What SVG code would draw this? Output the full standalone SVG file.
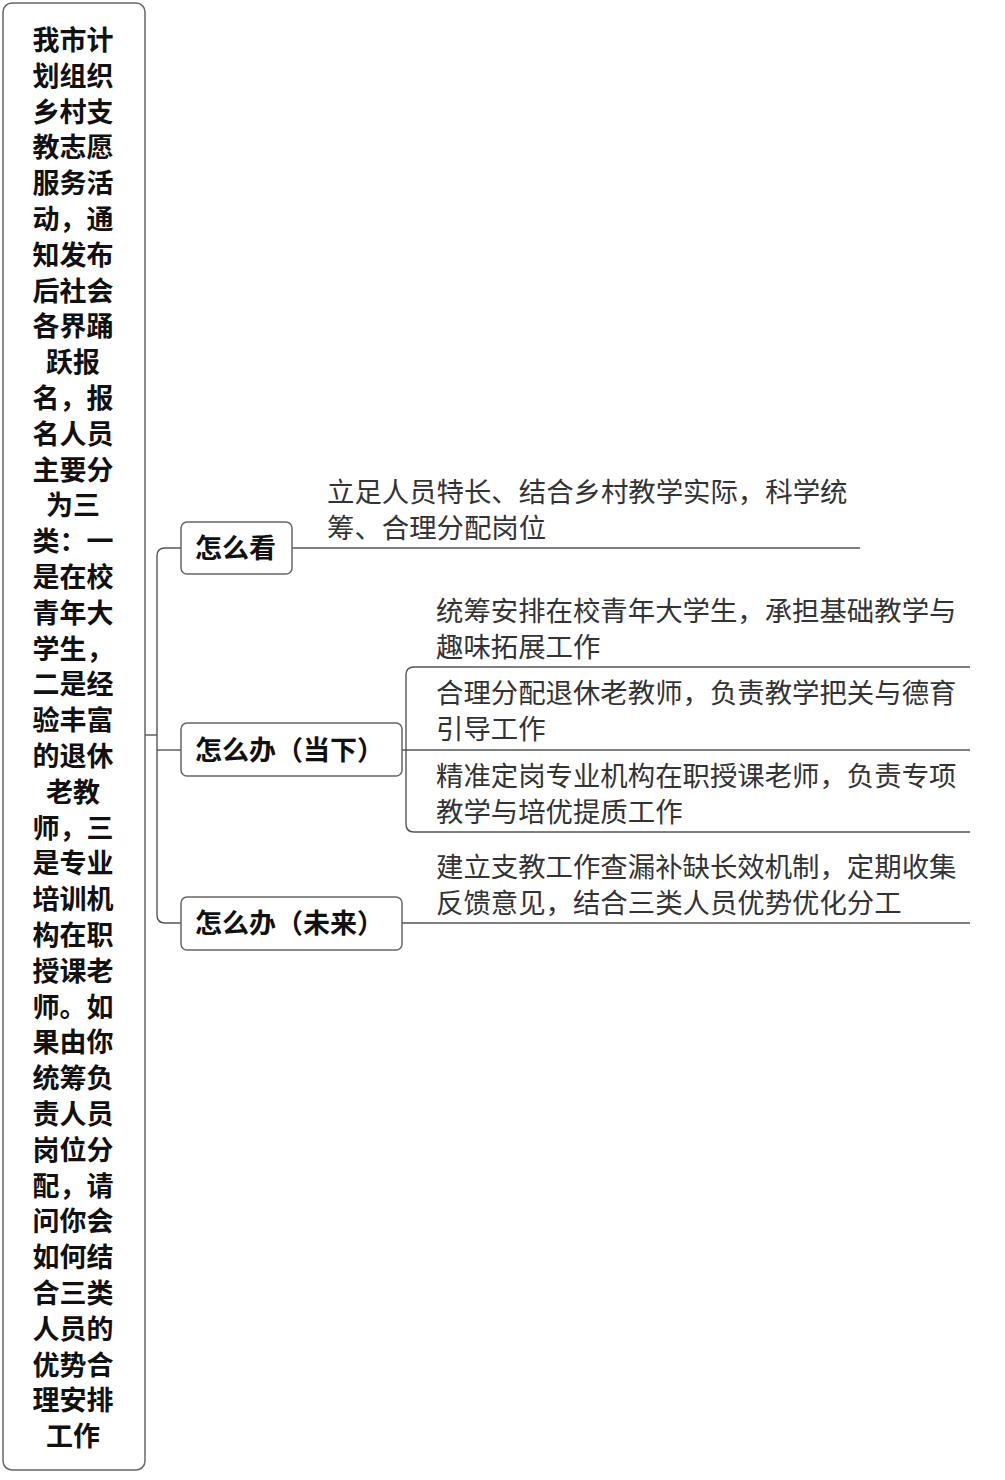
<svg xmlns="http://www.w3.org/2000/svg" width="1005" height="1480" viewBox="0 0 1005 1480">
<style>
.box{fill:#fff;stroke:#666;stroke-width:1.5}
.ln{fill:none;stroke:#555;stroke-width:1.4}
.rt{font-family:"Noto Sans CJK SC","Noto Sans",sans-serif;font-size:27px;font-weight:bold;fill:#111;text-anchor:middle}
.nt{font-family:"Noto Sans CJK SC","Noto Sans",sans-serif;font-size:27px;font-weight:bold;fill:#111}
.it{font-family:"Noto Sans CJK SC","Noto Sans",sans-serif;font-size:27.4px;fill:#333}
</style>
<rect width="1005" height="1480" fill="#fff"/>
<g id="connectors">
<path class="ln" d="M145 735 H157"/>
<path class="ln" d="M181 548 H165 Q157 548 157 556 V915 Q157 923 165 923 H181"/>
<path class="ln" d="M157 750 H181"/>
<path class="ln" d="M292 548 H860"/>
<path class="ln" d="M402 750 H970"/>
<path class="ln" d="M970 667 H414 Q406 667 406 675 V824 Q406 832 414 832 H970"/>
<path class="ln" d="M402 923 H970"/>
</g>
<g id="root">
<rect class="box" x="3" y="3" width="142" height="1467" rx="9"/>
<text class="rt" x="73" y="50">
<tspan x="73" dy="0">我市计</tspan><tspan x="73" dy="35.8">划组织</tspan><tspan x="73" dy="35.8">乡村支</tspan><tspan x="73" dy="35.8">教志愿</tspan><tspan x="73" dy="35.8">服务活</tspan><tspan x="73" dy="35.8">动，通</tspan><tspan x="73" dy="35.8">知发布</tspan><tspan x="73" dy="35.8">后社会</tspan><tspan x="73" dy="35.8">各界踊</tspan><tspan x="73" dy="35.8">跃报</tspan><tspan x="73" dy="35.8">名，报</tspan><tspan x="73" dy="35.8">名人员</tspan><tspan x="73" dy="35.8">主要分</tspan><tspan x="73" dy="35.8">为三</tspan><tspan x="73" dy="35.8">类：一</tspan><tspan x="73" dy="35.8">是在校</tspan><tspan x="73" dy="35.8">青年大</tspan><tspan x="73" dy="35.8">学生，</tspan><tspan x="73" dy="35.8">二是经</tspan><tspan x="73" dy="35.8">验丰富</tspan><tspan x="73" dy="35.8">的退休</tspan><tspan x="73" dy="35.8">老教</tspan><tspan x="73" dy="35.8">师，三</tspan><tspan x="73" dy="35.8">是专业</tspan><tspan x="73" dy="35.8">培训机</tspan><tspan x="73" dy="35.8">构在职</tspan><tspan x="73" dy="35.8">授课老</tspan><tspan x="73" dy="35.8">师。如</tspan><tspan x="73" dy="35.8">果由你</tspan><tspan x="73" dy="35.8">统筹负</tspan><tspan x="73" dy="35.8">责人员</tspan><tspan x="73" dy="35.8">岗位分</tspan><tspan x="73" dy="35.8">配，请</tspan><tspan x="73" dy="35.8">问你会</tspan><tspan x="73" dy="35.8">如何结</tspan><tspan x="73" dy="35.8">合三类</tspan><tspan x="73" dy="35.8">人员的</tspan><tspan x="73" dy="35.8">优势合</tspan><tspan x="73" dy="35.8">理安排</tspan><tspan x="73" dy="35.8">工作</tspan>
</text>
</g>
<g id="node-kan">
<rect class="box" x="181" y="522" width="111" height="52" rx="6"/>
<text class="nt" x="195" y="558">怎么看</text>
</g>
<g id="node-dangxia">
<rect class="box" x="181" y="723" width="221" height="53" rx="6"/>
<text class="nt" x="195" y="760">怎么办（当下）</text>
</g>
<g id="node-weilai">
<rect class="box" x="181" y="897" width="221" height="53" rx="6"/>
<text class="nt" x="195" y="933">怎么办（未来）</text>
</g>
<g id="item-kan">
<text class="it" x="327" y="502"><tspan x="327">立足人员特长、结合乡村教学实际，科学统</tspan><tspan x="327" dy="36">筹、合理分配岗位</tspan></text>
</g>
<g id="item-1">
<text class="it" x="436" y="621"><tspan x="436">统筹安排在校青年大学生，承担基础教学与</tspan><tspan x="436" dy="36">趣味拓展工作</tspan></text>
</g>
<g id="item-2">
<text class="it" x="436" y="703"><tspan x="436">合理分配退休老教师，负责教学把关与德育</tspan><tspan x="436" dy="36">引导工作</tspan></text>
</g>
<g id="item-3">
<text class="it" x="436" y="786"><tspan x="436">精准定岗专业机构在职授课老师，负责专项</tspan><tspan x="436" dy="36">教学与培优提质工作</tspan></text>
</g>
<g id="item-4">
<text class="it" x="436" y="877"><tspan x="436">建立支教工作查漏补缺长效机制，定期收集</tspan><tspan x="436" dy="36">反馈意见，结合三类人员优势优化分工</tspan></text>
</g>
</svg>
